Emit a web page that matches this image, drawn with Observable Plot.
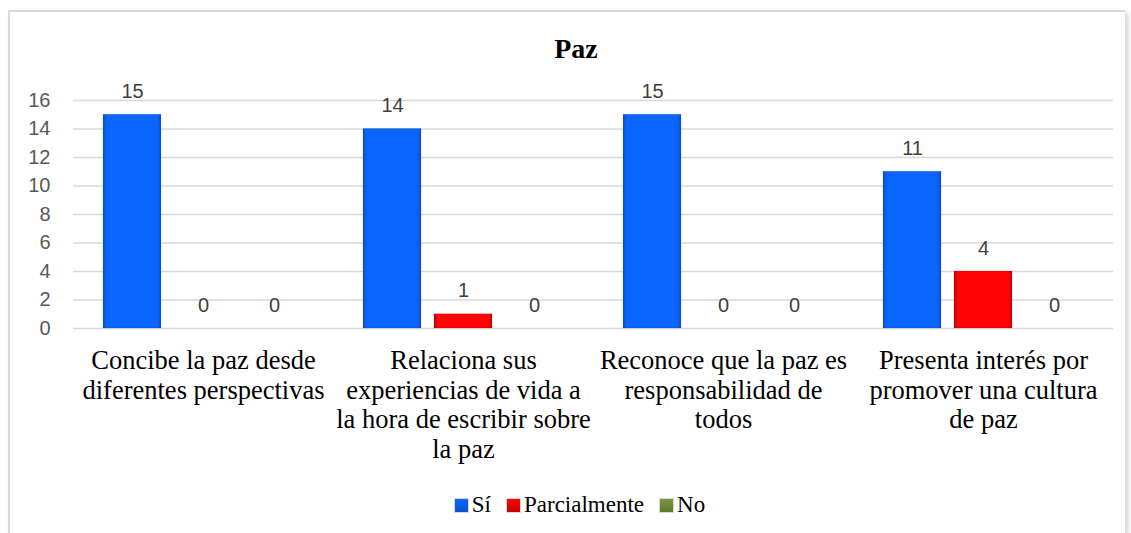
<!DOCTYPE html>
<html>
<head>
<meta charset="utf-8">
<script src="https://cdn.jsdelivr.net/npm/d3@7"></script>
<script src="https://cdn.jsdelivr.net/npm/@observablehq/plot@0.6"></script>
<style>
  html, body { margin: 0; padding: 0; background: #ffffff; width: 1131px; height: 533px; overflow: hidden; position: relative; }
  #frame { position: absolute; left: 8px; top: 10px; width: 1115px; height: 521px; border: 2px solid #d9d9d9; border-right: none; border-bottom: none; box-shadow: 3px 3px 5px rgba(0,0,0,0.18); background: #fff; }
  #title { position: absolute; left: 426px; width: 300px; top: 33px; text-align: center; font-family: "Liberation Serif", "Times New Roman", serif; font-weight: bold; font-size: 28px; line-height: 32px; color: #000; }
  #chart { position: absolute; left: 0; top: 80px; }
  #legend { position: absolute; top: 491px; left: 0; width: 1160px; text-align: center; font-family: "Liberation Serif", "Times New Roman", serif; font-size: 23px; line-height: 28px; color: #000; white-space: nowrap; }
  .item { display: inline-block; margin: 0 8px; }
  .sw { display: inline-block; width: 13px; height: 13px; margin-right: 4px; vertical-align: 0px; }
</style>
</head>
<body>
<div id="frame"></div>
<div id="title">Paz</div>
<div id="chart"></div>
<div id="legend"></div>
<script>
// ---- data ----
const categories = [
  "Concibe la paz desde diferentes perspectivas",
  "Relaciona sus experiencias de vida a la hora de escribir sobre la paz",
  "Reconoce que la paz es responsabilidad de todos",
  "Presenta interés por promover una cultura de paz"
];
const categoryTickLabels = [
  "Concibe la paz desde\ndiferentes perspectivas",
  "Relaciona sus\nexperiencias de vida a\nla hora de escribir sobre\nla paz",
  "Reconoce que la paz es\nresponsabilidad de\ntodos",
  "Presenta interés por\npromover una cultura\nde paz"
];
const series = ["Sí", "Parcialmente", "No"];
const valuesSi = [15, 14, 15, 11];
const valuesParcialmente = [0, 1, 0, 4];
const valuesNo = [0, 0, 0, 0];
const yTicks = [0, 2, 4, 6, 8, 10, 12, 14, 16];

const seriesValues = [valuesSi, valuesParcialmente, valuesNo];
const table = [];
categories.forEach((c, i) => {
  series.forEach((s, j) => table.push({category: c, series: s, value: seriesValues[j][i]}));
});

const gradIds = ["gSi", "gParc", "gNo"];

const chart = Plot.plot({
  width: 1131,
  height: 390,
  marginTop: 20,
  marginBottom: 142,
  marginLeft: 73,
  marginRight: 18,
  style: {fontFamily: "'Liberation Sans', Arial, sans-serif", background: "transparent", overflow: "visible"},
  fx: {domain: categories, padding: 0, label: null},
  x: {domain: series, paddingInner: 0.19, paddingOuter: 0.413, axis: null},
  y: {domain: [0, 16], label: null},
  color: {domain: series, range: gradIds.map(id => `url(#${id})`)},
  marks: [
    Plot.gridY({ticks: yTicks, stroke: "#d9d9d9", strokeOpacity: 1, strokeWidth: 1.6}),
    Plot.barY(table, {fx: "category", x: "series", y: "value", fill: "series", stroke: "rgba(0,0,0,0.12)", strokeWidth: 1}),
    Plot.text(table, {fx: "category", x: "series", y: "value", text: d => String(d.value), lineAnchor: "bottom", dy: -17, fontSize: 20, fill: "#404040"}),
    Plot.axisY({ticks: yTicks, tickSize: 0, tickPadding: 23, fontSize: 20, color: "#595959", label: null}),
    Plot.axisFx({anchor: "bottom", tickSize: 0, tickPadding: 20, fontSize: 26.5, lineHeight: 1.11, fontFamily: "serif", color: "#000", label: null,
      tickFormat: d => categoryTickLabels[categories.indexOf(d)]})
  ]
});

// gradient definitions for the bevelled bar look
const ns = "http://www.w3.org/2000/svg";
const defs = document.createElementNS(ns, "defs");
const shades = [
  ["#0a4fd0", "#0b66ff", "#0b66ff", "#0a4fd0"],
  ["#c80000", "#ff0505", "#ff0505", "#c80000"],
  ["#5e7a2c", "#7a963e", "#7a963e", "#5e7a2c"]
];
gradIds.forEach((id, i) => {
  const g = document.createElementNS(ns, "linearGradient");
  g.setAttribute("id", id);
  g.setAttribute("x1", "0"); g.setAttribute("x2", "1"); g.setAttribute("y1", "0"); g.setAttribute("y2", "0");
  [[0, 0], [0.07, 1], [0.93, 2], [1, 3]].forEach(([o, k]) => {
    const s = document.createElementNS(ns, "stop");
    s.setAttribute("offset", o);
    s.setAttribute("stop-color", shades[i][k]);
    g.appendChild(s);
  });
  defs.appendChild(g);
});
chart.insertBefore(defs, chart.firstChild);
document.getElementById("chart").appendChild(chart);

// legend
const legend = document.getElementById("legend");
series.forEach((s, i) => {
  const item = document.createElement("span");
  item.className = "item";
  const sw = document.createElement("span");
  sw.className = "sw";
  sw.style.background = `linear-gradient(to bottom, ${shades[i][1]}, ${shades[i][0]})`;
  sw.style.outline = "1px solid rgba(0,0,0,0.15)";
  item.appendChild(sw);
  item.appendChild(document.createTextNode(s));
  legend.appendChild(item);
});
</script>
</body>
</html>
